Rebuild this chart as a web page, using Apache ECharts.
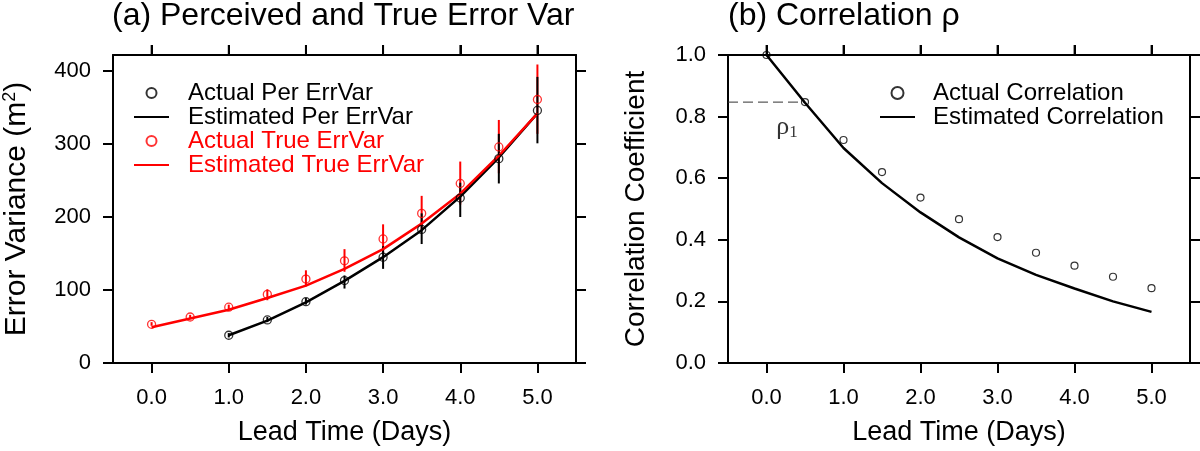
<!DOCTYPE html>
<html>
<head>
<meta charset="utf-8">
<script src="https://cdn.jsdelivr.net/npm/echarts@6/dist/echarts.min.js"></script>
<style>
  html,body{margin:0;padding:0;background:#fff;}
  #main{width:1200px;height:451px;}
</style>
</head>
<body>
<div id="main"></div>
<script>
// lead times (days)
var leadPer = [1, 1.5, 2, 2.5, 3, 3.5, 4, 4.5, 5];
var leadAll = [0, 0.5, 1, 1.5, 2, 2.5, 3, 3.5, 4, 4.5, 5];
var xTicks = [0, 1, 2, 3, 4, 5];

// (a) perceived error variance (black)
var perActual = [38, 59, 84, 113, 145, 183, 226, 280, 346];
var perEstimated = [38, 58, 83, 112.5, 145, 182, 228, 281.5, 342];
var perLow = [35, 56, 80, 102, 129, 163, 200, 246, 301];
var perHigh = [41, 63, 89, 120, 160, 205, 247, 314, 392];

// (a) true error variance (red)
var trueActual = [53, 63, 76.5, 94, 115, 140, 170, 205, 246, 296, 361];
var trueEstimated = [49, 61, 73, 89, 106, 129, 156, 191, 232, 284, 342];
var trueLow = [51, 61, 73, 86, 105, 125, 150, 182, 217, 260, 314];
var trueHigh = [56, 66, 80, 101, 127, 156, 190, 229, 276, 333, 409];
var varTicks = [0, 100, 200, 300, 400];
var varMax = 422;

// (b) correlation
var corrActual = [1.0, 0.847, 0.724, 0.62, 0.537, 0.467, 0.409, 0.358, 0.316, 0.28, 0.243];
var corrEstimated = [1.0, 0.845, 0.698, 0.584, 0.489, 0.408, 0.34, 0.286, 0.242, 0.2, 0.166];
var corrMax = 1;

var FONT = "'Liberation Sans', Arial, Helvetica, sans-serif";
var SERIF = "'Liberation Serif', 'Times New Roman', serif";

function pairs(xs, ys){
  var out = [];
  for (var i = 0; i < xs.length; i++) out.push([xs[i], ys[i]]);
  return out;
}
function bars(xs, lo, hi){
  var out = [];
  for (var i = 0; i < xs.length; i++) out.push([xs[i], lo[i], hi[i]]);
  return out;
}
function errBar(color){
  return function(params, api){
    var p1 = api.coord([api.value(0), api.value(1)]);
    var p2 = api.coord([api.value(0), api.value(2)]);
    return {
      type: 'line',
      shape: {x1: p1[0], y1: p1[1], x2: p2[0], y2: p2[1]},
      style: {stroke: color, lineWidth: 2}
    };
  };
}
// ticks above the top frame: thin rect symbols sitting on the axis max, shifted up
function topTicks(xIdx, yIdx, yMax){
  return {
    name: 'topTicks' + xIdx, type: 'scatter', xAxisIndex: xIdx, yAxisIndex: yIdx,
    symbol: 'rect', symbolSize: [2, 10], symbolOffset: [0, -5], clip: false, silent: true,
    itemStyle: {color: '#000', borderWidth: 0}, z: 5,
    data: xTicks.map(function(v){ return [v, yMax]; })
  };
}

var axisLineStyle = {color: '#000', width: 2};
var tickStyle = {width: 2, color: '#000'};

function xAx(grid, pos, showLabel){
  return {
    type: 'value', gridIndex: grid, position: pos, min: -0.5, max: 5.5,
    axisLine: {show: true, onZero: false, lineStyle: axisLineStyle},
    axisTick: {show: true, length: 10, lineStyle: tickStyle, customValues: xTicks},
    axisLabel: {show: showLabel, customValues: xTicks, fontFamily: FONT, fontSize: 22, color: '#000', margin: 24,
      formatter: function(v){ return v.toFixed(1); }},
    splitLine: {show: false},
    name: showLabel ? 'Lead Time (Days)' : '', nameLocation: 'middle', nameGap: 56,
    nameTextStyle: {fontFamily: FONT, fontSize: 27, color: '#000'}
  };
}

// hide the dot ECharts puts in the middle of a line legend icon
var noDot = {color: 'transparent', borderWidth: 0, opacity: 0};

// actual correlation points, the second one carries the rho_1 label
var corrPoints = pairs(leadAll, corrActual);
corrPoints[1] = {value: corrPoints[1], label: {show: true, position: 'inside', offset: [-18, 25],
  formatter: 'ρ{sub|1}', fontFamily: SERIF, fontSize: 26, color: '#000',
  rich: {sub: {fontFamily: SERIF, fontSize: 17, color: '#000', padding: [10, 0, 0, 0]}}}};

var option = {
  backgroundColor: '#fff',
  animation: false,
  title: [
    {text: '(a) Perceived and True Error Var', left: 112, top: 0, padding: 0,
     textStyle: {fontFamily: FONT, fontSize: 32, fontWeight: 'normal', color: '#000'}},
    {text: '(b) Correlation ρ', left: 728, top: 0, padding: 0,
     textStyle: {fontFamily: FONT, fontSize: 32, fontWeight: 'normal', color: '#000'}}
  ],
  legend: [
    {left: 133, top: 81, padding: 0, orient: 'vertical', itemGap: 0, itemWidth: 35, itemHeight: 10,
     textStyle: {fontFamily: FONT, fontSize: 24, color: '#000', padding: [0, 0, 0, 14]},
     data: [
       {name: 'Actual Per ErrVar'},
       {name: 'Estimated Per ErrVar', itemStyle: noDot},
       {name: 'Actual True ErrVar', textStyle: {color: '#ff0000'}},
       {name: 'Estimated True ErrVar', itemStyle: noDot, textStyle: {color: '#ff0000'}}
     ]},
    {left: 879, top: 81, padding: 0, orient: 'vertical', itemGap: 0, itemWidth: 35, itemHeight: 12,
     textStyle: {fontFamily: FONT, fontSize: 24, color: '#000', padding: [0, 0, 0, 13]},
     data: [{name: 'Actual Correlation'}, {name: 'Estimated Correlation', itemStyle: noDot}]}
  ],
  grid: [
    {left: 113, top: 55, width: 463, height: 308, containLabel: false},
    {left: 728, top: 55, width: 462, height: 308, containLabel: false}
  ],
  xAxis: [xAx(0, 'bottom', true), xAx(0, 'top', false), xAx(1, 'bottom', true), xAx(1, 'top', false)],
  yAxis: [
    {type: 'value', gridIndex: 0, position: 'left', min: 0, max: varMax,
     axisLine: {show: true, onZero: false, lineStyle: axisLineStyle},
     axisTick: {show: true, length: 10, lineStyle: tickStyle, customValues: varTicks},
     axisLabel: {customValues: varTicks, fontFamily: FONT, fontSize: 22, color: '#000', margin: 22},
     splitLine: {show: false},
     name: 'Error Variance (m{sup|2})', nameLocation: 'middle', nameGap: 80, nameRotate: 90,
     nameTextStyle: {fontFamily: FONT, fontSize: 30, color: '#000',
       rich: {sup: {fontFamily: FONT, fontSize: 18, color: '#000', padding: [0, 0, 14, 0]}}}},
    {type: 'value', gridIndex: 0, position: 'right', min: 0, max: varMax,
     axisLine: {show: true, onZero: false, lineStyle: axisLineStyle},
     axisTick: {show: true, length: 10, lineStyle: tickStyle, customValues: varTicks},
     axisLabel: {show: false}, splitLine: {show: false}},
    {type: 'value', gridIndex: 1, position: 'left', min: 0, max: corrMax, interval: 0.2,
     axisLine: {show: true, onZero: false, lineStyle: axisLineStyle},
     axisTick: {show: true, length: 10, lineStyle: tickStyle},
     axisLabel: {fontFamily: FONT, fontSize: 22, color: '#000', margin: 22,
       formatter: function(v){ return v.toFixed(1); }},
     splitLine: {show: false},
     name: 'Correlation Coefficient', nameLocation: 'middle', nameGap: 78, nameRotate: 90,
     nameTextStyle: {fontFamily: FONT, fontSize: 28, color: '#000'}},
    {type: 'value', gridIndex: 1, position: 'right', min: 0, max: corrMax, interval: 0.2,
     axisLine: {show: true, onZero: false, lineStyle: axisLineStyle},
     axisTick: {show: true, length: 10, lineStyle: tickStyle},
     axisLabel: {show: false}, splitLine: {show: false}}
  ],
  series: [
    topTicks(0, 0, varMax),
    topTicks(2, 2, corrMax),

    {name: 'trueBars', type: 'custom', xAxisIndex: 0, yAxisIndex: 0, renderItem: errBar('#ff0000'),
     encode: {x: 0, y: [1, 2]}, data: bars(leadAll, trueLow, trueHigh), z: 2},
    {name: 'perBars', type: 'custom', xAxisIndex: 0, yAxisIndex: 0, renderItem: errBar('#000'),
     encode: {x: 0, y: [1, 2]}, data: bars(leadPer, perLow, perHigh), z: 2},
    {name: 'Estimated Per ErrVar', type: 'line', xAxisIndex: 0, yAxisIndex: 0, symbol: 'none',
     lineStyle: {color: '#000', width: 2.5}, itemStyle: {color: '#000'},
     data: pairs(leadPer, perEstimated), z: 3},
    {name: 'Actual Per ErrVar', type: 'scatter', xAxisIndex: 0, yAxisIndex: 0, symbol: 'circle', symbolSize: 8,
     itemStyle: {color: 'transparent', borderColor: '#000', borderWidth: 1.3},
     data: pairs(leadPer, perActual), z: 4},
    {name: 'Estimated True ErrVar', type: 'line', xAxisIndex: 0, yAxisIndex: 0, symbol: 'none',
     lineStyle: {color: '#ff0000', width: 2.5}, itemStyle: {color: '#ff0000'},
     data: pairs(leadAll, trueEstimated), z: 3},
    {name: 'Actual True ErrVar', type: 'scatter', xAxisIndex: 0, yAxisIndex: 0, symbol: 'circle', symbolSize: 8,
     itemStyle: {color: 'transparent', borderColor: '#ff0000', borderWidth: 1.3},
     data: pairs(leadAll, trueActual), z: 4},

    {name: 'rho1', type: 'line', xAxisIndex: 2, yAxisIndex: 2, symbol: 'none',
     lineStyle: {color: '#333', width: 1, type: [10, 5]},
     data: [[-0.5, corrActual[1]], [0.5, corrActual[1]]], z: 2},
    {name: 'Estimated Correlation', type: 'line', xAxisIndex: 2, yAxisIndex: 2, symbol: 'none',
     lineStyle: {color: '#000', width: 2.5}, itemStyle: {color: '#000'},
     data: pairs(leadAll, corrEstimated), z: 3},
    {name: 'Actual Correlation', type: 'scatter', xAxisIndex: 2, yAxisIndex: 2, symbol: 'circle', symbolSize: 7,
     itemStyle: {color: 'transparent', borderColor: '#000', borderWidth: 1.2},
     data: corrPoints, z: 4}
  ]
};

var chart = echarts.init(document.getElementById('main'), null, {renderer: 'canvas'});
chart.setOption(option);
</script>
</body>
</html>
